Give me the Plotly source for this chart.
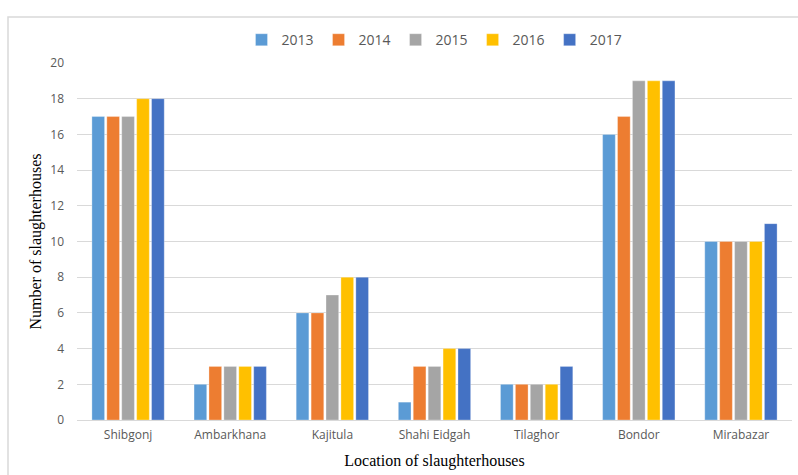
import plotly.graph_objects as go

locations = ["Shibgonj", "Ambarkhana", "Kajitula", "Shahi Eidgah", "Tilaghor", "Bondor", "Mirabazar"]
years = ["2013", "2014", "2015", "2016", "2017"]
counts_2013 = [17, 2, 6, 1, 2, 16, 10]
counts_2014 = [17, 3, 6, 3, 2, 17, 10]
counts_2015 = [17, 3, 7, 3, 2, 19, 10]
counts_2016 = [18, 3, 8, 4, 2, 19, 10]
counts_2017 = [18, 3, 8, 4, 3, 19, 11]
y_ticks = [0, 2, 4, 6, 8, 10, 12, 14, 16, 18, 20]

series = [counts_2013, counts_2014, counts_2015, counts_2016, counts_2017]
colors = ["#5B9BD5", "#ED7D31", "#A5A5A5", "#FFC000", "#4472C4"]

fig = go.Figure()
for year, vals, col in zip(years, series, colors):
    fig.add_trace(go.Bar(
        x=locations, y=vals, name=year,
        marker=dict(color=col, line=dict(color="rgba(255,255,255,0.6)", width=0.5)),
    ))

fig.update_layout(
    width=798, height=475,
    margin=dict(l=77, r=6, t=63, b=55),
    paper_bgcolor="white", plot_bgcolor="white",
    barmode="group", bargap=0.27, bargroupgap=0.15,
    showlegend=True,
    legend=dict(orientation="h", x=0.5, xanchor="center", y=1.064, yanchor="middle",
                font=dict(family="Liberation Sans Narrow, Open Sans", size=14, color="#595959"),
                itemwidth=30, traceorder="normal"),
    font=dict(family="Open Sans", color="#595959"),
    shapes=[dict(type="rect", xref="paper", yref="paper",
                 x0=-0.0965, x1=1.2, y0=-0.3, y1=1.129,
                 line=dict(color="#d9d9d9", width=1.5), layer="below")],
)

fig.update_xaxes(
    tickfont=dict(family="Open Sans", size=12, color="#595959"),
    showline=True, linecolor="#d9d9d9", linewidth=1, ticks="",
    ticklabelstandoff=4,
    title=dict(text="Location of slaughterhouses",
               font=dict(family="Liberation Serif", size=16, color="black"), standoff=12),
)
fig.update_yaxes(
    range=[0, 20], tickvals=y_ticks,
    tickfont=dict(family="Open Sans", size=12, color="#595959"),
    showgrid=True, gridcolor="#d9d9d9", gridwidth=1, zeroline=False,
    ticks="", ticklabelstandoff=12,
    title=dict(text="Number of slaughterhouses",
               font=dict(family="Liberation Serif", size=16, color="black"), standoff=4),
)

fig.write_html("out.html")
